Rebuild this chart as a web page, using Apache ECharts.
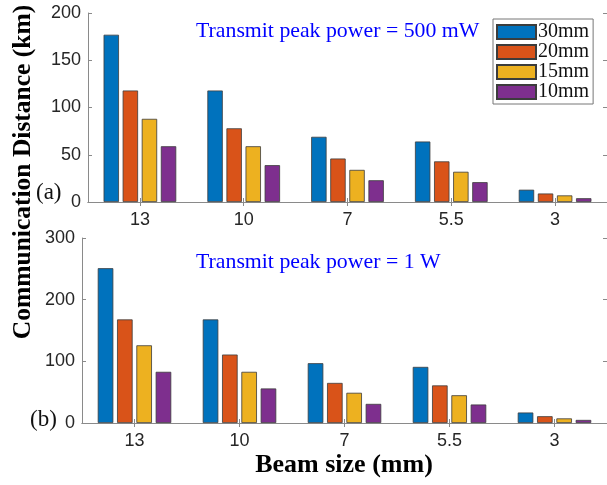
<!DOCTYPE html>
<html>
<head>
<meta charset="utf-8">
<script src="https://cdn.jsdelivr.net/npm/echarts@6/dist/echarts.min.js"></script>
<style>
  html, body { margin: 0; padding: 0; background: #fff; }
  #chart { width: 607px; height: 485px; }
</style>
</head>
<body>
<div id="chart"></div>
<script>
// beam sizes (mm)
var categories = ['13', '10', '7', '5.5', '3'];
var seriesNames = ['30mm', '20mm', '15mm', '10mm'];

// (a) transmit peak power = 500 mW
var mw500_30 = [177, 118, 69, 64, 13];
var mw500_20 = [118, 78, 46, 43, 9];
var mw500_15 = [88, 59, 34, 32, 7];
var mw500_10 = [59, 39, 23, 21, 4];

// (b) transmit peak power = 1 W
var w1_30 = [251, 168, 97, 91, 17];
var w1_20 = [168, 111, 65, 61, 11];
var w1_15 = [126, 83, 49, 45, 7.5];
var w1_10 = [83, 56, 31, 30, 5];

var topTicks = [0, 50, 100, 150, 200];
var bottomTicks = [0, 100, 200, 300];

var colors = ['#0072BD', '#D95319', '#EDB120', '#7E2F8E'];
var axisColor = '#8a8a8a';
var labelColor = '#262626';

function barSeries(name, data, idx) {
  return {
    name: name,
    type: 'bar',
    xAxisIndex: idx,
    yAxisIndex: idx,
    barCategoryGap: '30%',
    barGap: '24%',
    itemStyle: { borderColor: '#3c3c3c', borderWidth: 0.8 },
    data: data
  };
}

function catAxis(grid, pos, showLabel) {
  return {
    type: 'category',
    gridIndex: grid,
    position: pos,
    data: categories,
    axisLine: { show: true, lineStyle: { color: axisColor, width: 1 } },
    axisTick: { show: true, inside: true, alignWithLabel: true, length: 4, lineStyle: { color: axisColor } },
    axisLabel: {
      show: showLabel, margin: 9,
      fontFamily: 'Liberation Sans', fontSize: 18, color: labelColor
    }
  };
}

function valAxis(grid, pos, max, interval, showLabel) {
  return {
    type: 'value',
    gridIndex: grid,
    position: pos,
    min: 0, max: max, interval: interval,
    splitLine: { show: false },
    axisLine: { show: true, lineStyle: { color: axisColor, width: 1 } },
    axisTick: { show: true, inside: true, length: 4, lineStyle: { color: axisColor } },
    axisLabel: {
      show: showLabel, margin: 7,
      fontFamily: 'Liberation Sans', fontSize: 18, color: labelColor
    }
  };
}

var option = {
  animation: false,
  color: colors,
  grid: [
    { left: 88, top: 13, right: -2, height: 189 },
    { left: 82, top: 238, right: -2, height: 185 }
  ],
  xAxis: [
    catAxis(0, 'bottom', true),
    catAxis(1, 'bottom', true),
    catAxis(0, 'top', false),
    catAxis(1, 'top', false)
  ],
  yAxis: [
    valAxis(0, 'left', topTicks[topTicks.length - 1], topTicks[1] - topTicks[0], true),
    valAxis(1, 'left', bottomTicks[bottomTicks.length - 1], bottomTicks[1] - bottomTicks[0], true),
    valAxis(0, 'right', topTicks[topTicks.length - 1], topTicks[1] - topTicks[0], false),
    valAxis(1, 'right', bottomTicks[bottomTicks.length - 1], bottomTicks[1] - bottomTicks[0], false)
  ],
  legend: {
    data: seriesNames,
    orient: 'vertical',
    icon: 'rect',
    left: 493,
    top: 19,
    padding: [3, 4, 2, 3],
    itemGap: 0,
    itemWidth: 39,
    itemHeight: 14,
    borderColor: '#777',
    borderWidth: 1,
    backgroundColor: '#fff',
    textStyle: { fontFamily: 'Liberation Serif', fontSize: 20, lineHeight: 19, color: '#111', padding: [0, 0, 0, -3] }
  },
  graphic: [
    {
      type: 'text', left: 196, top: 20,
      style: { text: 'Transmit peak power = 500 mW', fill: '#0000ff', font: '21.8px "Liberation Serif"' }
    },
    {
      type: 'text', left: 196, top: 251,
      style: { text: 'Transmit peak power = 1 W', fill: '#0000ff', font: '21.8px "Liberation Serif"' }
    },
    {
      type: 'text', left: 36, top: 181,
      style: { text: '(a)', fill: '#111', font: '23px "Liberation Serif"' }
    },
    {
      type: 'text', left: 30, top: 408,
      style: { text: '(b)', fill: '#111', font: '23px "Liberation Serif"' }
    },
    {
      type: 'text', x: 23, y: 172, rotation: Math.PI / 2,
      style: {
        text: 'Communication Distance (km)', fill: '#000',
        font: 'bold 25.5px "Liberation Serif"', textAlign: 'center', textVerticalAlign: 'middle'
      }
    },
    {
      type: 'text', x: 344, y: 465,
      style: {
        text: 'Beam size (mm)', fill: '#000',
        font: 'bold 26px "Liberation Serif"', textAlign: 'center', textVerticalAlign: 'middle'
      }
    }
  ],
  series: [
    barSeries(seriesNames[0], mw500_30, 0),
    barSeries(seriesNames[1], mw500_20, 0),
    barSeries(seriesNames[2], mw500_15, 0),
    barSeries(seriesNames[3], mw500_10, 0),
    barSeries(seriesNames[0], w1_30, 1),
    barSeries(seriesNames[1], w1_20, 1),
    barSeries(seriesNames[2], w1_15, 1),
    barSeries(seriesNames[3], w1_10, 1)
  ]
};

var myChart = echarts.init(document.getElementById('chart'));
myChart.setOption(option);
</script>
</body>
</html>
